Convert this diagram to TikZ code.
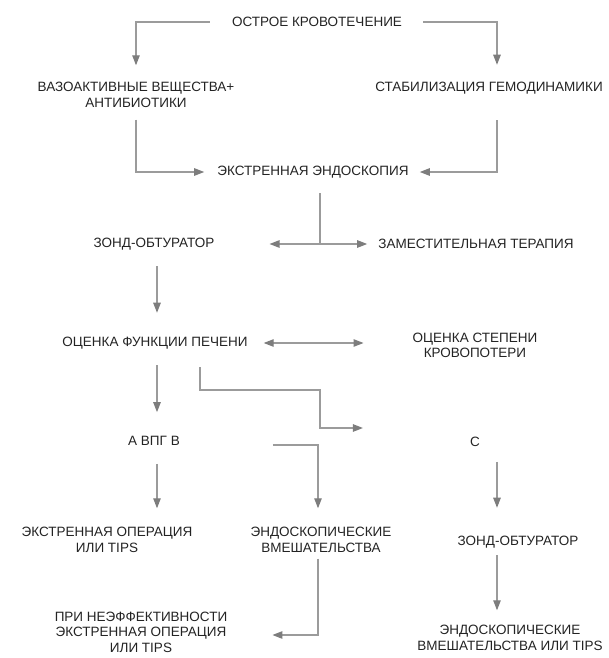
\documentclass[tikz,border=0pt]{standalone}
\usepackage{fontspec}
\setmainfont{Liberation Sans}
\usepackage{xcolor}
\definecolor{txtgray}{RGB}{35,35,35}
\definecolor{linegray}{RGB}{155,155,155}
\definecolor{tipgray}{RGB}{125,125,125}
\usetikzlibrary{arrows.meta,calc}

\begin{document}
\begin{tikzpicture}[
  x=1pt, y=-1pt,
  lbl/.style={font=\fontsize{13.5}{15.5}\selectfont, text=txtgray,
              align=center, inner sep=2pt},
  conn/.style={draw=linegray, line width=1.1pt},
  arr/.style={conn, -{Triangle[length=10pt,width=7.5pt,color=tipgray]}},
  arrboth/.style={conn, {Triangle[length=10pt,width=7.5pt,color=tipgray]}-{Triangle[length=10pt,width=7.5pt,color=tipgray]}}
]
  \useasboundingbox (0,0) rectangle (609,658);
  % Top: bleeding, first measures, endoscopy
  \node[lbl] (top)   at (317,22)  {ОСТРОЕ КРОВОТЕЧЕНИЕ};
  \node[lbl] (vaso)  at (136,95)  {ВАЗОАКТИВНЫЕ ВЕЩЕСТВА+\\АНТИБИОТИКИ};
  \node[lbl] (stab)  at (489,88)  {СТАБИЛИЗАЦИЯ ГЕМОДИНАМИКИ};
  \node[lbl] (endo)  at (313,172) {ЭКСТРЕННАЯ ЭНДОСКОПИЯ};
  % Middle rows
  \node[lbl] (zond1) at (154,244) {ЗОНД-ОБТУРАТОР};
  \node[lbl] (zam)   at (476,244) {ЗАМЕСТИТЕЛЬНАЯ ТЕРАПИЯ};
  \node[lbl] (ocf)   at (155,343) {ОЦЕНКА ФУНКЦИИ ПЕЧЕНИ};
  \node[lbl] (ocs)   at (475,345.5) {ОЦЕНКА СТЕПЕНИ\\КРОВОПОТЕРИ};
  \node[lbl] (avpg)  at (154,441) {А ВПГ В};
  \node[lbl] (cnode) at (475,442) {С};
  % Bottom rows
  \node[lbl] (eop)   at (107,540) {ЭКСТРЕННАЯ ОПЕРАЦИЯ\\ИЛИ TIPS};
  \node[lbl] (endv)  at (321,540) {ЭНДОСКОПИЧЕСКИЕ\\ВМЕШАТЕЛЬСТВА};
  \node[lbl] (zond2) at (518,542) {ЗОНД-ОБТУРАТОР};
  \node[lbl] (pri)   at (141,632) {ПРИ НЕЭФФЕКТИВНОСТИ\\ЭКСТРЕННАЯ ОПЕРАЦИЯ\\ИЛИ TIPS};
  \node[lbl] (endt)  at (510,638) {ЭНДОСКОПИЧЕСКИЕ\\ВМЕШАТЕЛЬСТВА ИЛИ TIPS};
  % Bends of the connectors
  \coordinate (split) at (320,244);
  \coordinate (kneeA) at (320,390);

  % Top split and join
  \draw[arr] ([xshift=-20pt]top.west) -| ([yshift=15pt]vaso.north);
  \draw[arr] ([xshift=19pt]top.east) -| ([xshift=8pt,yshift=15pt]stab.north);
  \draw[arr] ([yshift=-10pt]vaso.south) |- ([xshift=-11pt]endo.west);
  \draw[arr] ([xshift=8pt,yshift=-24pt]stab.south) |- ([xshift=9pt]endo.east);
  % Endoscopy -> probe / replacement therapy
  \draw[conn] ([xshift=7pt,yshift=-13pt]endo.south) -- (split);
  \draw[arrboth] ([xshift=53pt]zond1.east) -- ([xshift=-9pt]zam.west);
  \draw[arr] ([xshift=3pt,yshift=-14pt]zond1.south) -- ([xshift=2pt,yshift=22pt]ocf.north);
  % Liver function <-> blood loss
  \draw[arrboth] ([xshift=14pt]ocf.east) -- ($(ocs.west |- ocf.east)+(-47pt,0pt)$);
  \draw[arr] ([xshift=2pt,yshift=-14pt]ocf.south) -- ([xshift=3pt,yshift=22pt]avpg.north);
  \draw[arr] ([xshift=45pt,yshift=-16pt]ocf.south) |- (kneeA) |- ([xshift=-105pt,yshift=14pt]cnode.west);
  % A/B and C branches
  \draw[arr] ([xshift=3pt,yshift=-16pt]avpg.south) -- ([xshift=50pt,yshift=17pt]eop.north);
  \draw[arr] ([xshift=91pt,yshift=-4pt]avpg.east) -| ([xshift=-3pt,yshift=17pt]endv.north);
  \draw[arr] ([xshift=22pt,yshift=-13pt]cnode.south) -- ([xshift=-21pt,yshift=26pt]zond2.north);
  \draw[arr] ([xshift=-3pt,yshift=-4pt]endv.south) |- ([xshift=43pt,yshift=-3pt]pri.east);
  \draw[arr] ([xshift=-21pt,yshift=-5pt]zond2.south) -- ([xshift=-13pt,yshift=13pt]endt.north);
\end{tikzpicture}
\end{document}
